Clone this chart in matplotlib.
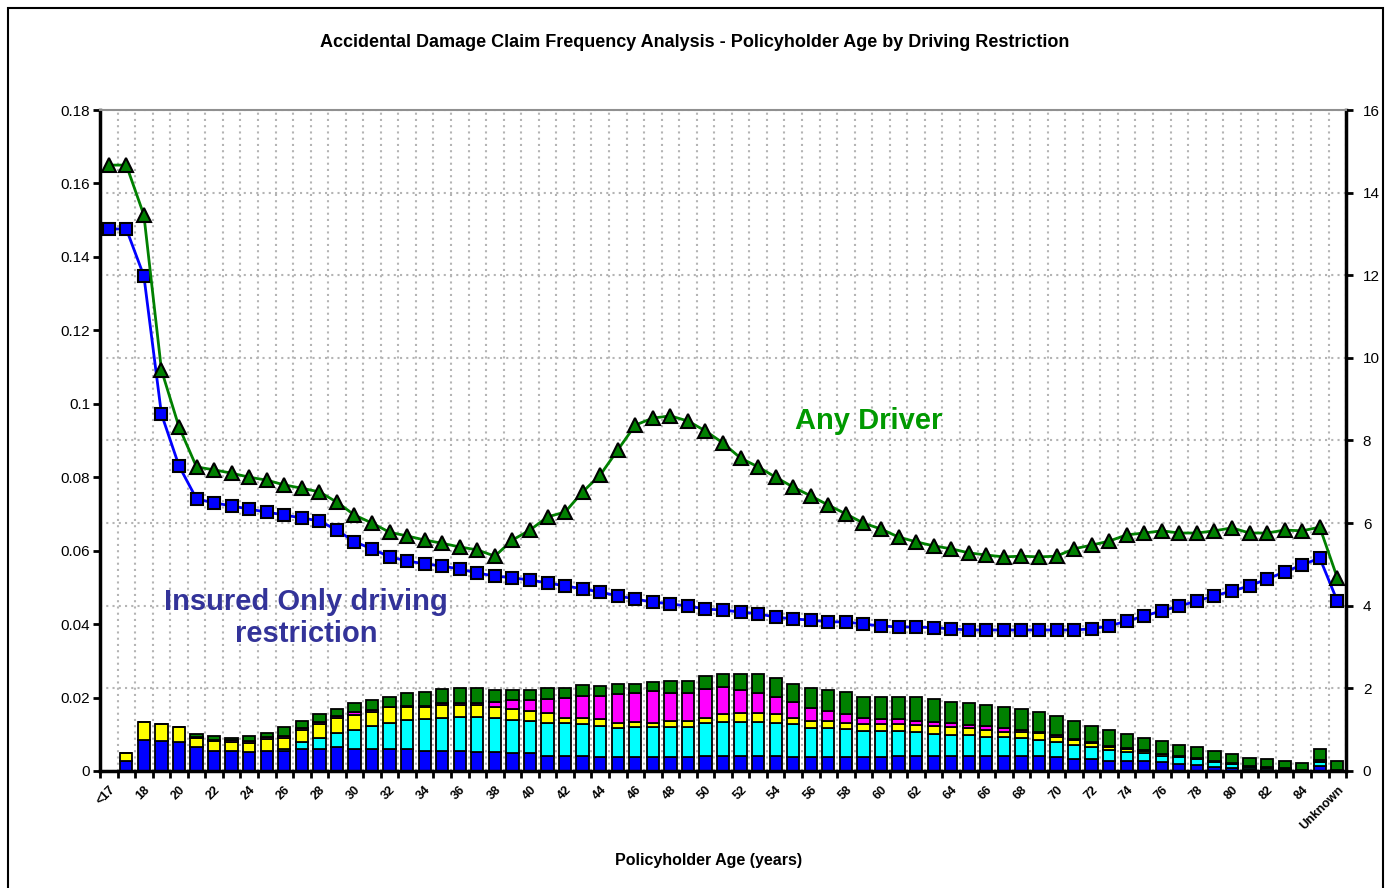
import matplotlib
matplotlib.use("Agg")
import matplotlib.pyplot as plt
import numpy as np
from matplotlib.patches import Rectangle
from matplotlib.ticker import FuncFormatter

plt.rcParams['font.family'] = ['Liberation Sans', 'DejaVu Sans']

# categorias de edad
edades = ["<17"] + [str(a) for a in range(17, 86)] + ["Unknown"]

# frecuencia de siniestros (eje izquierdo)
any_driver = [0.165, 0.165, 0.1514, 0.1092, 0.0937, 0.0828, 0.082, 0.0811, 0.080, 0.0792,
              0.0779, 0.077, 0.076, 0.0732, 0.0697, 0.0675, 0.065, 0.064, 0.0629, 0.062,
              0.061, 0.0602, 0.0585, 0.0629, 0.0656, 0.0692, 0.0705, 0.076, 0.0806, 0.0874,
              0.0942, 0.0961, 0.0967, 0.0953, 0.0926, 0.0893, 0.0852, 0.0828, 0.080, 0.0773,
              0.0749, 0.0724, 0.070, 0.0675, 0.0659, 0.0637, 0.0624, 0.0613, 0.0605, 0.0594,
              0.0588, 0.0583, 0.0585, 0.0583, 0.0585, 0.0605, 0.0615, 0.0626, 0.0643, 0.0648,
              0.0654, 0.0648, 0.0648, 0.0654, 0.0662, 0.0648, 0.0648, 0.0656, 0.0654, 0.0664,
              0.0526]
insured_only = [0.1476, 0.1476, 0.1348, 0.0972, 0.0831, 0.0741, 0.073, 0.0722, 0.0713, 0.0705,
                0.0697, 0.0689, 0.0681, 0.0656, 0.0624, 0.0605, 0.0583, 0.0572, 0.0564, 0.0558,
                0.055, 0.0539, 0.0531, 0.0526, 0.052, 0.0512, 0.0504, 0.0496, 0.0487, 0.0477,
                0.0468, 0.046, 0.0455, 0.0449, 0.0441, 0.0438, 0.0433, 0.0428, 0.0419, 0.0414,
                0.0411, 0.0406, 0.0406, 0.040, 0.0395, 0.0392, 0.0392, 0.039, 0.0387, 0.0384,
                0.0384, 0.0384, 0.0384, 0.0384, 0.0384, 0.0384, 0.0387, 0.0395, 0.0408, 0.0422,
                0.0436, 0.0449, 0.0463, 0.0477, 0.049, 0.0504, 0.0523, 0.0542, 0.0561, 0.058,
                0.0463]

# exposicion apilada (eje derecho)
seg_azul = [0, 0.25, 0.75, 0.73, 0.71, 0.57, 0.49, 0.49, 0.45, 0.49,
            0.49, 0.53, 0.53, 0.59, 0.53, 0.53, 0.53, 0.53, 0.49, 0.49,
            0.49, 0.45, 0.45, 0.43, 0.43, 0.37, 0.37, 0.37, 0.33, 0.33,
            0.33, 0.33, 0.33, 0.33, 0.37, 0.37, 0.37, 0.37, 0.37, 0.33,
            0.33, 0.33, 0.33, 0.33, 0.33, 0.37, 0.37, 0.37, 0.37, 0.37,
            0.37, 0.37, 0.37, 0.37, 0.33, 0.29, 0.29, 0.25, 0.25, 0.23,
            0.21, 0.17, 0.14, 0.10, 0.06, 0.04, 0.03, 0.02, 0.01, 0.11,
            0.01]
seg_cian = [0, 0, 0, 0, 0, 0, 0, 0, 0, 0,
            0.04, 0.18, 0.28, 0.34, 0.46, 0.55, 0.62, 0.71, 0.77, 0.79,
            0.82, 0.86, 0.83, 0.81, 0.77, 0.78, 0.78, 0.76, 0.76, 0.70,
            0.74, 0.74, 0.74, 0.74, 0.78, 0.82, 0.82, 0.82, 0.78, 0.80,
            0.70, 0.70, 0.68, 0.64, 0.64, 0.60, 0.57, 0.53, 0.51, 0.49,
            0.46, 0.46, 0.42, 0.38, 0.38, 0.34, 0.30, 0.26, 0.22, 0.20,
            0.16, 0.16, 0.15, 0.12, 0.10, 0.06, 0.05, 0.03, 0.02, 0.11,
            0.01]
seg_amarillo = [0, 0.18, 0.43, 0.41, 0.35, 0.23, 0.23, 0.21, 0.23, 0.29,
                0.26, 0.28, 0.32, 0.36, 0.37, 0.35, 0.39, 0.31, 0.30, 0.32,
                0.29, 0.29, 0.26, 0.26, 0.26, 0.26, 0.14, 0.15, 0.16, 0.14,
                0.11, 0.10, 0.15, 0.15, 0.14, 0.18, 0.22, 0.22, 0.22, 0.15,
                0.18, 0.18, 0.16, 0.16, 0.16, 0.16, 0.17, 0.19, 0.18, 0.17,
                0.15, 0.11, 0.15, 0.16, 0.12, 0.12, 0.08, 0.07, 0.06, 0.05,
                0.04, 0.03, 0.02, 0.02, 0.02, 0.01, 0.01, 0.01, 0, 0.03,
                0]
seg_magenta = [0, 0, 0, 0, 0, 0.03, 0.04, 0.04, 0.05, 0.05,
               0.05, 0.05, 0.05, 0.04, 0.06, 0.05, 0.02, 0.02, 0.02, 0.04,
               0.05, 0.05, 0.14, 0.21, 0.25, 0.32, 0.48, 0.54, 0.56, 0.69,
               0.71, 0.77, 0.67, 0.67, 0.69, 0.66, 0.56, 0.48, 0.41, 0.38,
               0.32, 0.25, 0.21, 0.16, 0.12, 0.12, 0.10, 0.10, 0.11, 0.09,
               0.10, 0.10, 0.04, 0.04, 0.03, 0.02, 0.02, 0.02, 0.02, 0.02,
               0.01, 0.01, 0.01, 0.01, 0.01, 0.01, 0, 0, 0, 0.01,
               0]
seg_verde = [0, 0, 0, 0, 0, 0.06, 0.09, 0.07, 0.12, 0.10,
             0.22, 0.18, 0.20, 0.17, 0.22, 0.24, 0.22, 0.31, 0.34, 0.34,
             0.37, 0.35, 0.28, 0.26, 0.26, 0.28, 0.24, 0.25, 0.25, 0.25,
             0.21, 0.21, 0.29, 0.29, 0.33, 0.31, 0.37, 0.45, 0.48, 0.45,
             0.48, 0.50, 0.52, 0.51, 0.55, 0.55, 0.57, 0.55, 0.51, 0.52,
             0.52, 0.51, 0.52, 0.48, 0.48, 0.45, 0.40, 0.39, 0.35, 0.30,
             0.31, 0.27, 0.26, 0.24, 0.21, 0.20, 0.19, 0.18, 0.17, 0.27,
             0.22]

x = np.arange(len(edades))

fig = plt.figure(figsize=(13.87, 8.88), dpi=100)
axb = fig.add_axes([0.0721, 0.1318, 0.8984, 0.7443])
axl = axb.twinx()
axb.yaxis.tick_right()
axl.yaxis.tick_left()

# barras apiladas en el eje derecho
capas = [(seg_azul, "#0000FF"), (seg_cian, "#00FFFF"), (seg_amarillo, "#FFFF00"),
         (seg_magenta, "#FF00FF"), (seg_verde, "#008000")]
base = np.zeros(len(x))
for vals, col in capas:
    axb.bar(x, vals, width=0.7, bottom=base, color=col, edgecolor="black", linewidth=1.3, zorder=3)
    base += np.array(vals)

# lineas en el eje izquierdo
axl.plot(x, insured_only, color="#0000FF", lw=2, marker="s", ms=9,
         mfc="#0000FF", mec="black", mew=1.5, zorder=4)
axl.plot(x, any_driver, color="#008000", lw=2, marker="^", ms=10.5,
         mfc="#008000", mec="black", mew=1.5, zorder=5)

axb.set_xlim(-0.5, len(x) - 0.5)
axb.set_ylim(0, 16)
axb.set_yticks(np.arange(0, 17, 2))
axl.set_ylim(0, 0.18)
axl.set_yticks(np.arange(0, 0.181, 0.02))
axl.yaxis.set_major_formatter(FuncFormatter(lambda v, p: f"{round(v, 2):g}"))

axb.set_xticks(x[::2])
axb.set_xticklabels(edades[::2], rotation=45, ha="right", rotation_mode="anchor",
                    fontsize=9, fontweight="bold")
axb.set_xticks(np.arange(-0.5, len(x), 1), minor=True)
axb.tick_params(axis="x", which="major", length=0, pad=9)
axb.tick_params(axis="x", which="minor", length=5, width=2, direction="out")
axb.tick_params(axis="y", length=5, width=2, direction="out", labelsize=11, pad=7)
axl.tick_params(axis="y", length=5, width=2, direction="out", labelsize=11, pad=2)

axb.set_axisbelow(True)
axb.grid(axis="y", which="major", color="#b4b4b4", linestyle=(0, (1, 2)), lw=1.5)
axb.grid(axis="x", which="minor", color="#b4b4b4", linestyle=(0, (1, 2)), lw=1.5)

for s in axb.spines.values():
    s.set_visible(False)
for lado in ["left", "right", "bottom"]:
    axl.spines[lado].set_linewidth(2.5)
    axl.spines[lado].set_color("black")
axl.spines["top"].set_color("#909090")
axl.spines["top"].set_linewidth(1.5)

axl.text(0.617, 0.5295, "Any Driver", transform=axl.transAxes, ha="center", va="center",
         fontsize=21, fontweight="bold", color="#009900")
axl.text(0.1653, 0.231, "Insured Only driving\nrestriction", transform=axl.transAxes,
         ha="center", va="center", fontsize=21, fontweight="bold", color="#333399",
         linespacing=1.17)

fig.text(0.501, 0.9527, "Accidental Damage Claim Frequency Analysis - Policyholder Age by Driving Restriction",
         ha="center", va="center", fontsize=13, fontweight="bold")
fig.text(0.5105, 0.0315, "Policyholder Age (years)", ha="center", va="center",
         fontsize=11.5, fontweight="bold")

fig.add_artist(Rectangle((8 / 1387, -0.02), (1383 - 8) / 1387, 0.991 + 0.02, fill=False,
                         edgecolor="black", lw=1.5, transform=fig.transFigure))

fig.savefig("out.png", dpi=100)
